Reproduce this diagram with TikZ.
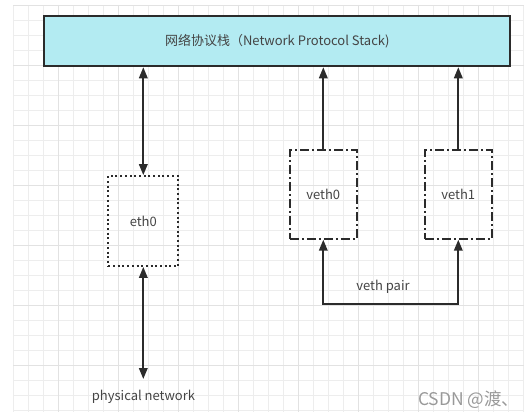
\documentclass[tikz,border=0pt]{standalone}
\usepackage{fontspec}
\setmainfont{Noto Sans CJK SC}
\usetikzlibrary{arrows.meta}
\definecolor{stackfill}{HTML}{B3EBF2}
\definecolor{linedark}{HTML}{2B2B2B}
\definecolor{textgray}{HTML}{444444}
\definecolor{gridminor}{HTML}{EDEDED}
\definecolor{gridmajor}{HTML}{E2E2E2}
\begin{document}
\begin{tikzpicture}[x=1pt,y=-1pt,
    label/.style={font=\fontsize{13}{15}\selectfont,text=textgray},
    stackbox/.style={draw=linedark,line width=2pt,fill=stackfill,minimum width=466,minimum height=50,label},
    ethbox/.style={draw=linedark,line width=1.8pt,dash pattern=on 2pt off 2.7pt,minimum width=70,minimum height=90,label},
    vethbox/.style={draw=linedark,line width=1.8pt,dash pattern=on 9pt off 3pt on 2pt off 3pt,minimum width=67,minimum height=89,label},
    link/.style={draw=linedark,line width=1.9pt},
    uparrow/.style={link,-{Triangle[length=11pt,width=8.5pt]}},
    biarrow/.style={link,{Triangle[length=11pt,width=8.5pt]}-{Triangle[length=11pt,width=8.5pt]}}]
    \useasboundingbox (0,0) rectangle (524,412);
    % grid
    \foreach \x in {13,28,...,523} \draw[gridminor,line width=0.8pt] (\x,5) -- (\x,412);
    \foreach \y in {5,20,...,410} \draw[gridminor,line width=0.8pt] (13,\y) -- (524,\y);
    \foreach \x in {58,118,...,523} \draw[gridmajor,line width=0.8pt] (\x,5) -- (\x,412);
    \foreach \y in {5,65,...,410} \draw[gridmajor,line width=0.8pt] (13,\y) -- (524,\y);
    % boxes
    \node[stackbox] (stack) at (277.25,41.25) {网络协议栈（Network Protocol Stack)};
    \node[ethbox] (eth0) at (143.3,221) {eth0};
    \node[vethbox] (veth0) at (323.3,194.3) {veth0};
    \node[vethbox] (veth1) at (458.3,194.3) {veth1};
    \coordinate (physend) at (143.3,379);
    \node[label] (phys) at (143.5,396.5) {physical network};
    % connectors
    \draw[biarrow] (eth0.north |- stack.south) -- (eth0.north);
    \draw[biarrow] (eth0.south) -- (physend);
    \draw[uparrow] (veth0.north) -- (veth0.north |- stack.south);
    \draw[uparrow] (veth1.north) -- (veth1.north |- stack.south);
    \draw[biarrow] (veth0.south) -- ++(0,64) coordinate (pairleft) -| (veth1.south);
    \node[label] (pair) at (383,287) {veth pair};
    \node[font=\fontsize{17.5}{20}\selectfont,text=black!40,anchor=base west,inner sep=0pt] (mark) at (418,405.3) {CSDN @渡、};
\end{tikzpicture}
\end{document}
